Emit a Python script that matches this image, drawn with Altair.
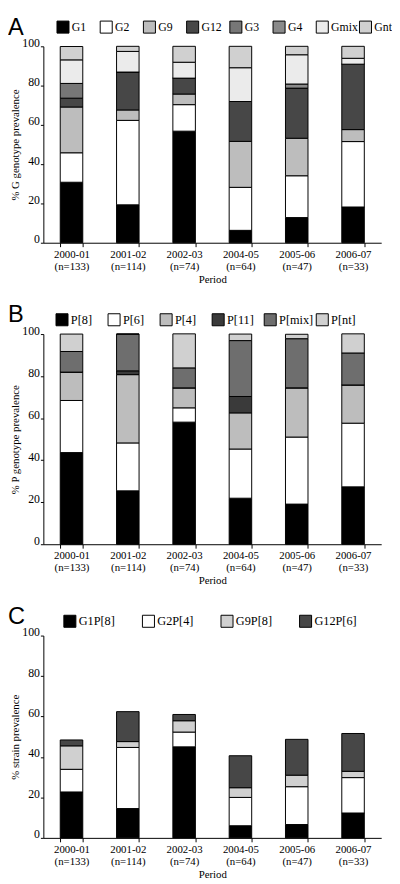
import altair as alt
import pandas as pd

periods = ["2000-01 (n=133)", "2001-02 (n=114)", "2002-03 (n=74)",
           "2004-05 (n=64)", "2005-06 (n=47)", "2006-07 (n=33)"]

# Panel A: % G genotype prevalence
g_types = ["G1", "G2", "G9", "G12", "G3", "G4", "Gmix", "Gnt"]
g_G1 = [30.8, 19.3, 56.8, 6.3, 12.8, 18.2]
g_G2 = [15.0, 43.0, 13.5, 21.9, 21.3, 33.3]
g_G9 = [23.3, 5.3, 5.4, 23.4, 19.1, 6.1]
g_G12 = [4.5, 19.3, 8.1, 20.3, 25.5, 33.3]
g_G3 = [7.5, 0, 0, 0, 0, 0]
g_G4 = [0, 0, 0, 0, 2.1, 0]
g_Gmix = [12.0, 10.5, 8.1, 17.2, 14.9, 3.0]
g_Gnt = [6.8, 2.6, 8.1, 10.9, 4.3, 6.1]
g_colors = ["#000000", "#ffffff", "#bdbdbd", "#474747", "#777777", "#8a8a8a", "#ebebeb", "#d0d0d0"]

# Panel B: % P genotype prevalence
p_types = ["P[8]", "P[6]", "P[4]", "P[11]", "P[mix]", "P[nt]"]
p_P8 = [43.6, 25.4, 58.1, 21.9, 19.1, 27.3]
p_P6 = [24.8, 22.8, 6.8, 23.4, 31.9, 30.3]
p_P4 = [13.5, 32.5, 9.5, 17.2, 23.4, 18.2]
p_P11 = [0, 1.8, 0, 7.8, 0, 0]
p_Pmix = [9.8, 17.5, 9.5, 26.6, 23.4, 15.2]
p_Pnt = [8.3, 0, 16.2, 3.1, 2.1, 9.1]
p_colors = ["#000000", "#ffffff", "#bdbdbd", "#3a3a3a", "#6e6e6e", "#d0d0d0"]

# Panel C: % strain prevalence
s_types = ["G1P[8]", "G2P[4]", "G9P[8]", "G12P[6]"]
s_G1P8 = [22.7, 14.5, 45.0, 6.0, 6.6, 12.3]
s_G2P4 = [11.2, 30.2, 7.3, 14.0, 18.7, 17.5]
s_G9P8 = [11.6, 2.9, 5.6, 4.8, 5.7, 3.1]
s_G12P6 = [2.9, 14.8, 3.1, 15.8, 17.7, 18.7]
s_colors = ["#000000", "#ffffff", "#d0d0d0", "#474747"]


def make_df(types, series):
    rows = []
    for k, (t, vals) in enumerate(zip(types, series)):
        for p, v in zip(periods, vals):
            rows.append({"period": p, "type": t, "value": v, "order": k})
    return pd.DataFrame(rows)


FONT = "Liberation Serif"
W = 344


def panel(df, types, colors, ytitle, letter, height, legend_x, legend_y,
          col_pad, label_size):
    bars = alt.Chart(df).mark_bar(stroke="black", strokeWidth=1).encode(
        x=alt.X("period:N", sort=periods,
                scale=alt.Scale(paddingInner=0.6, paddingOuter=0.3),
                axis=alt.Axis(title="Period", labelAngle=0,
                              labelExpr="split(datum.label, ' ')",
                              tickBand="extent", tickSize=4, labelFontSize=11,
                              labelLineHeight=12, labelPadding=2,
                              titleFontSize=11, titleFontWeight="normal",
                              titlePadding=2, domainColor="black",
                              tickColor="black", labelColor="black",
                              titleColor="black")),
        y=alt.Y("value:Q", stack="zero",
                scale=alt.Scale(domain=[0, 100], nice=False),
                axis=alt.Axis(title=ytitle, values=[0, 20, 40, 60, 80, 100],
                              grid=False, tickSize=3, labelFontSize=12,
                              labelPadding=1, labelBaseline="alphabetic",
                              titleFontSize=11, titleFontWeight="normal",
                              titlePadding=1, domainColor="black",
                              tickColor="black", labelColor="black",
                              titleColor="black")),
        color=alt.Color("type:N", sort=types,
                        scale=alt.Scale(domain=types, range=colors),
                        legend=alt.Legend(title=None, orient="none",
                                          legendX=legend_x, legendY=legend_y,
                                          direction="horizontal",
                                          columns=len(types), gridAlign="all",
                                          columnPadding=col_pad,
                                          symbolType="square", symbolSize=150,
                                          symbolStrokeColor="black",
                                          symbolStrokeWidth=1,
                                          symbolOpacity=1,
                                          labelFontSize=label_size,
                                          labelOffset=2,
                                          labelColor="black", labelFont=FONT)),
        order=alt.Order("order:Q", sort="ascending"),
    )
    lab = alt.Chart(pd.DataFrame({"t": [letter]})).mark_text(
        font="Liberation Sans", fontSize=24, align="left",
        baseline="top", color="black"
    ).encode(text="t:N", x=alt.value(-36), y=alt.value(-31))
    return alt.layer(bars, lab).properties(width=W, height=height)


pa = panel(make_df(g_types, [g_G1, g_G2, g_G9, g_G12, g_G3, g_G4, g_Gmix, g_Gnt]),
           g_types, g_colors, "% G genotype prevalence", "A", 200, 13, -27, -3.5, 12)
pb = panel(make_df(p_types, [p_P8, p_P6, p_P4, p_P11, p_Pmix, p_Pnt]),
           p_types, p_colors, "% P genotype prevalence", "B", 214, 12, -22, 0, 12.5)
pc = panel(make_df(s_types, [s_G1P8, s_G2P4, s_G9P8, s_G12P6]),
           s_types, s_colors, "% strain prevalence", "C", 206, 20, -22, 18, 12.5)

chart = alt.vconcat(pa, pb, pc, spacing=20).resolve_scale(
    color="independent"
).properties(
    padding={"left": 0, "top": 0, "right": 0, "bottom": 0}
).configure(font=FONT).configure_view(stroke=None)

chart.save("out.html", embed_options={"renderer": "svg", "actions": False})
